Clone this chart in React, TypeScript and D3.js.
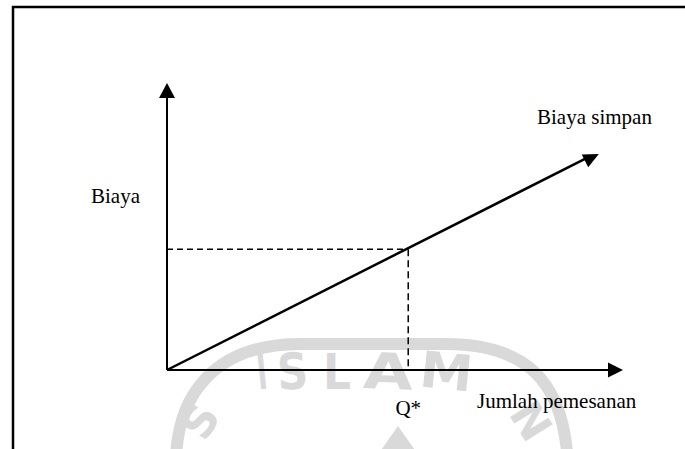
import React from 'react';
import * as d3 from 'd3';

// ---- data ----
const quantity = [0, 94.7];          // order quantity (x) for the holding-cost line
const holdingCost = [0, 75.3];       // holding cost (y)
const qStar = [52.9];                // optimal order quantity
const costAtQStar = [42.1];          // holding cost at Q*
const axisLabels = ['Biaya', 'Jumlah pemesanan'];
const seriesLabels = ['Biaya simpan'];
const tickLabels = ['Q*'];
const watermarkLetters = ['I', 'S', 'L', 'A', 'M'];
const watermarkSide = ['S', 'N'];

const W = 685;
const H = 449;

function arrowHead(tipX: number, tipY: number, fromX: number, fromY: number, len = 15, half = 7.5) {
  const dx = tipX - fromX;
  const dy = tipY - fromY;
  const d = Math.sqrt(dx * dx + dy * dy);
  const ux = dx / d;
  const uy = dy / d;
  const bx = tipX - ux * len;
  const by = tipY - uy * len;
  const px = -uy;
  const py = ux;
  return `M${tipX},${tipY}L${bx + px * half},${by + py * half}L${bx - px * half},${by - py * half}Z`;
}

// watermark letter boxes (x start, width, rotation)
const wmBoxes = [
  { x: 257, w: 10, r: -6 },
  { x: 277, w: 31, r: -3 },
  { x: 323, w: 28, r: 0 },
  { x: 363, w: 50, r: 2 },
  { x: 420, w: 53, r: 6 },
];

export default function App() {
  const x = d3.scaleLinear().domain([0, 100]).range([167, 623]);
  const y = d3.scaleLinear().domain([0, 100]).range([370, 83]);

  const line = d3
    .line<[number, number]>()
    .x((d) => x(d[0]))
    .y((d) => y(d[1]));
  const pts: [number, number][] = quantity.map((q, i) => [q, holdingCost[i]]);

  const lastQ = quantity[quantity.length - 1];
  const lastC = holdingCost[holdingCost.length - 1];

  const font = "'Liberation Serif', 'Times New Roman', serif";
  const wmColor = '#d9d9d9';
  const wmFont = "'DejaVu Sans', sans-serif";

  return (
    <svg
      width={W}
      height={H}
      style={{ position: 'absolute', left: 0, top: 0, background: '#fff' }}
      xmlns="http://www.w3.org/2000/svg"
    >
      <rect x={0} y={0} width={W} height={H} fill="#fff" />
      {/* watermark */}
      <path
        d="M176,470 C174,395 215,344 300,344 L445,344 C520,344 566,375 568,470"
        fill="none"
        stroke={wmColor}
        strokeWidth={12}
      />
      <g fill={wmColor} fontFamily={wmFont} fontWeight="bold" fontSize={50}>
        {watermarkLetters.map((ch, i) => {
          const b = wmBoxes[i];
          return (
            <text
              key={i}
              x={b.x}
              y={389}
              textLength={b.w}
              lengthAdjust="spacingAndGlyphs"
              transform={`rotate(${b.r},${b.x + b.w / 2},372)`}
            >
              {ch}
            </text>
          );
        })}
        <text
          fontSize={44}
          textAnchor="middle"
          dominantBaseline="central"
          transform="translate(200,421) rotate(-58)"
        >
          {watermarkSide[0]}
        </text>
        <text
          fontSize={44}
          textAnchor="middle"
          dominantBaseline="central"
          transform="translate(531,421) rotate(58)"
        >
          {watermarkSide[1]}
        </text>
        <path d="M398,426L379,453L417,453Z" />
      </g>

      {/* frame */}
      <path d={`M13,${H + 2}V7H${W + 2}`} fill="none" stroke="#000" strokeWidth={2.5} />

      {/* dashed guides */}
      <line
        x1={x(0)}
        x2={x(qStar[0])}
        y1={y(costAtQStar[0])}
        y2={y(costAtQStar[0])}
        stroke="#000"
        strokeWidth={1.5}
        strokeDasharray="6,4"
      />
      <line
        x1={x(qStar[0])}
        x2={x(qStar[0])}
        y1={y(costAtQStar[0])}
        y2={y(0)}
        stroke="#000"
        strokeWidth={1.5}
        strokeDasharray="7,4"
      />

      {/* axes */}
      <line x1={x(0)} x2={x(0)} y1={y(0)} y2={y(100) + 14} stroke="#000" strokeWidth={2} />
      <path d={arrowHead(x(0), y(100), x(0), y(0), 15, 8)} fill="#000" />
      <line x1={x(0)} x2={x(100) - 14} y1={y(0)} y2={y(0)} stroke="#000" strokeWidth={2} />
      <path d={arrowHead(x(100), y(0), x(0), y(0), 15, 7.5)} fill="#000" />

      {/* holding cost line */}
      <path
        d={line(pts.map((p, i) => (i === pts.length - 1 ? [p[0] - 2.5, p[1] - 1.3] : p)) as any) || ''}
        fill="none"
        stroke="#000"
        strokeWidth={2.5}
      />
      <path d={arrowHead(x(lastQ), y(lastC), x(0), y(0), 15.5, 7.2)} fill="#000" />

      {/* labels */}
      <g fontFamily={font} fontSize={21} fill="#000">
        <text x={91} y={203}>{axisLabels[0]}</text>
        <text x={477} y={408}>{axisLabels[1]}</text>
        <text x={537} y={124}>{seriesLabels[0]}</text>
        <text x={x(qStar[0])} y={415} textAnchor="middle">{tickLabels[0]}</text>
      </g>
    </svg>
  );
}
